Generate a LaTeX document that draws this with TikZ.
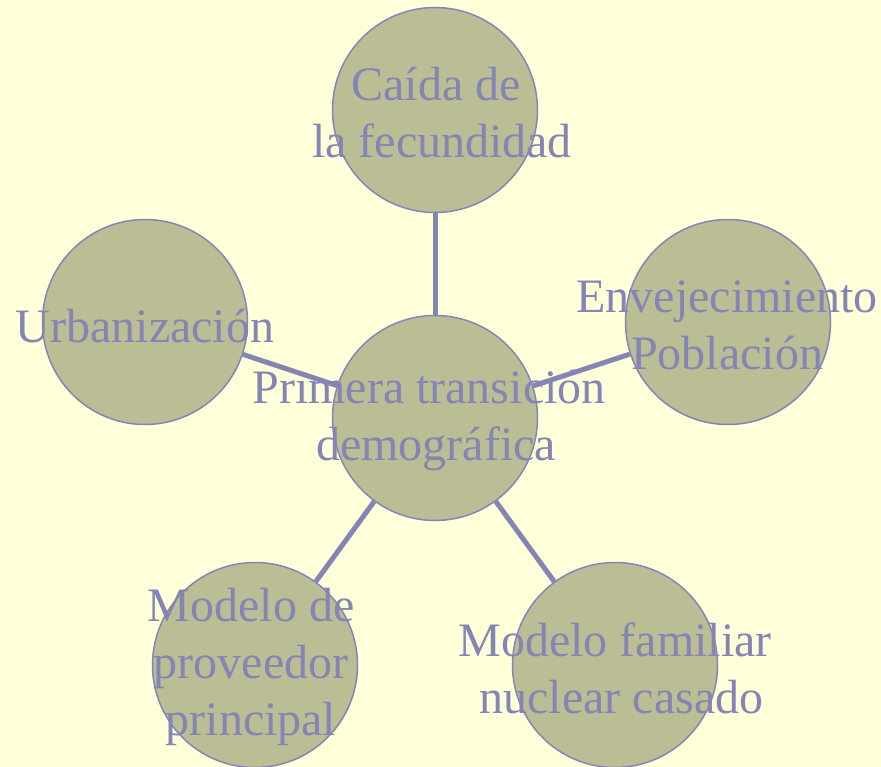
\documentclass[tikz,border=0pt]{standalone}
\usepackage{fontspec}
\setmainfont{Liberation Serif}
\definecolor{bgc}{HTML}{FFFFD9}
\definecolor{fillc}{HTML}{BBBD94}
\definecolor{linec}{HTML}{8585B5}
\begin{document}
\begin{tikzpicture}[x=1pt,y=-1pt,
  bubble/.style={circle,draw=linec,fill=fillc,line width=1.5pt,minimum size=205pt,inner sep=0pt},
  lbl/.style={text=linec,font=\fontsize{48}{57}\selectfont,align=center,inner sep=0pt},
  conn/.style={draw=linec,line width=5pt}]
\fill[bgc] (0,0) rectangle (881,767);
\useasboundingbox (0,0) rectangle (881,767);
\node[bubble] (c) at (435,418) {};
\node[bubble] (t) at (435,110) {};
\node[bubble] (r) at (728,322) {};
\node[bubble] (l) at (145,322) {};
\node[bubble] (bl) at (255,665) {};
\node[bubble] (br) at (615,665) {};
\draw[conn] (c) -- (t);
\draw[conn] (c) -- (r);
\draw[conn] (c) -- (l);
\draw[conn] (c) -- (bl);
\draw[conn] (c) -- (br);
\node[lbl] (tc) at (436,113) {Caída de\\\hspace*{12pt}la fecundidad};
\node[lbl] (rc) at (727,325) {Envejecimiento\\Población};
\node[lbl] (lc) at (145,326) {Urbanización};
\node[lbl] (cc) at (429,420) {Primera transición\\\hspace*{14pt}demográfica};
\node[lbl] (blc) at (251,667) {Modelo de\\proveedor\\principal};
\node[lbl] (brc) at (615,668) {Modelo familiar\\\hspace*{13pt}nuclear casado};
\end{tikzpicture}
\end{document}
